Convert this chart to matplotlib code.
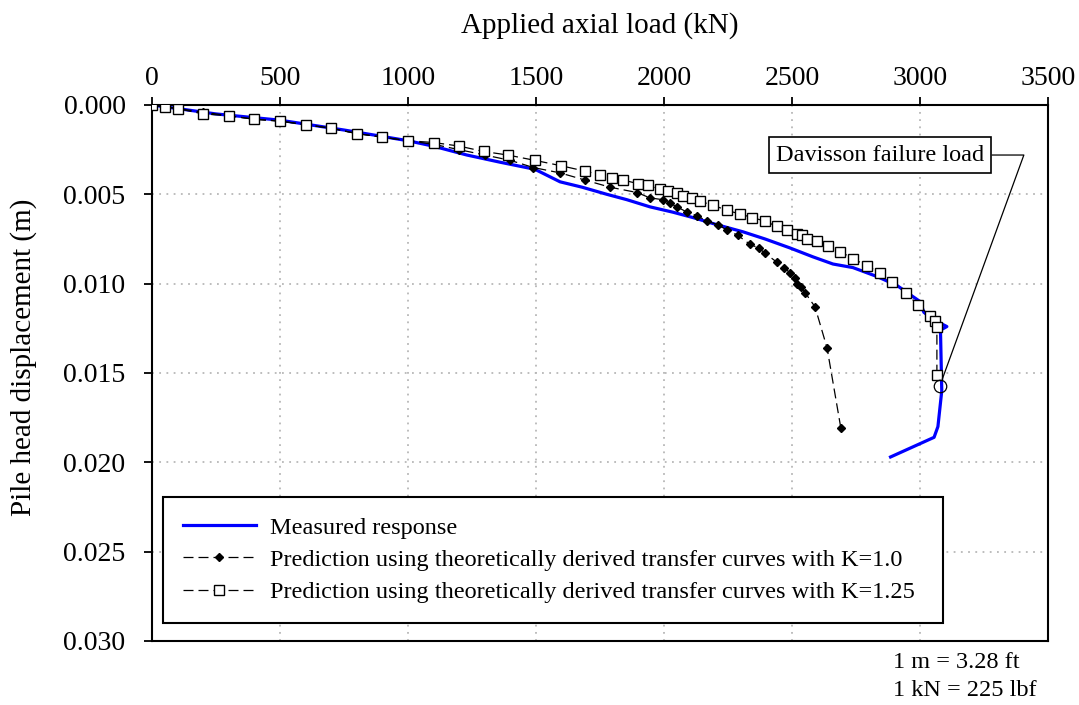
import matplotlib
matplotlib.use("Agg")
import matplotlib.pyplot as plt
from matplotlib.ticker import FixedLocator

plt.rcParams['font.family'] = ['Liberation Serif', 'DejaVu Serif']

# ---------------- data ----------------
measured_load = [0, 100, 250, 500, 750, 1000, 1098, 1230, 1359, 1496, 1594, 1680, 1777,
                 1855, 1945, 2035, 2113, 2207, 2309, 2395, 2492, 2582, 2660, 2738, 2832,
                 2910, 2950, 3000, 3015, 3050, 3105, 3080, 3085, 3070, 3055, 2885]
measured_disp = [0, 0.0002, 0.0005, 0.00085, 0.0014, 0.0020, 0.0023, 0.0028, 0.0032, 0.0036,
                 0.0043, 0.0046, 0.0050, 0.0053, 0.0057, 0.0060, 0.0063, 0.0067, 0.0071,
                 0.0075, 0.0080, 0.0085, 0.0089, 0.0091, 0.0096, 0.0101, 0.0105, 0.0110,
                 0.0116, 0.0120, 0.0124, 0.0126, 0.0160, 0.0180, 0.0186, 0.0197]

k10_load = [0, 50, 100, 200, 300, 400, 500, 600, 700, 800, 900, 1000, 1100, 1200, 1300,
            1400, 1490, 1594, 1691, 1789, 1895, 1945, 1996, 2023, 2051, 2090, 2130, 2168,
            2210, 2246, 2289, 2336, 2370, 2395, 2441, 2470, 2492, 2510, 2520, 2535, 2551,
            2590, 2637, 2691]
k10_disp = [0, 0.0001, 0.0002, 0.0004, 0.0006, 0.0008, 0.0009, 0.0011, 0.0013, 0.0016,
            0.0018, 0.0020, 0.0022, 0.0025, 0.0028, 0.0031, 0.0035, 0.0038, 0.0042, 0.0046,
            0.0049, 0.0052, 0.0053, 0.0055, 0.0057, 0.0060, 0.0062, 0.0065, 0.0067, 0.0070,
            0.0073, 0.0078, 0.0080, 0.0083, 0.0088, 0.0091, 0.0094, 0.0097, 0.0100, 0.0102,
            0.0105, 0.0113, 0.0136, 0.0181]

k125_load = [0, 50, 100, 200, 300, 400, 500, 600, 700, 800, 900, 1000, 1100, 1200, 1295,
             1390, 1496, 1598, 1691, 1750, 1797, 1840, 1898, 1937, 1984, 2016, 2051, 2074,
             2110, 2141, 2191, 2246, 2297, 2344, 2395, 2441, 2480, 2520, 2540, 2559, 2598,
             2641, 2688, 2738, 2793, 2844, 2891, 2945, 2992, 3040, 3059, 3066, 3066]
k125_disp = [0, 0.0001, 0.0002, 0.0005, 0.0006, 0.0008, 0.0009, 0.0011, 0.0013, 0.0016,
             0.0018, 0.0020, 0.0021, 0.0023, 0.0026, 0.0028, 0.0031, 0.0034, 0.0037, 0.0039,
             0.0041, 0.0042, 0.0044, 0.0045, 0.0047, 0.0048, 0.0049, 0.0051, 0.0052, 0.0054,
             0.0056, 0.0059, 0.0061, 0.0063, 0.0065, 0.0068, 0.0070, 0.0072, 0.0073, 0.0075,
             0.0076, 0.0079, 0.0082, 0.0086, 0.0090, 0.0094, 0.0099, 0.0105, 0.0112, 0.0118,
             0.0121, 0.0124, 0.0151]

davisson_load = [3078]
davisson_disp = [0.0157]

x_ticks = [0, 500, 1000, 1500, 2000, 2500, 3000, 3500]
y_ticks = [0.000, 0.005, 0.010, 0.015, 0.020, 0.025, 0.030]
y_tick_labels = ["0.000", "0.005", "0.010", "0.015", "0.020", "0.025", "0.030"]

labels = ["Measured response",
          "Prediction using theoretically derived transfer curves with K=1.0",
          "Prediction using theoretically derived transfer curves with K=1.25"]

# ---------------- figure ----------------
FS_TEXT = 17.5
FS_TICK = 20
FS_LABEL = 21
fig = plt.figure(figsize=(10.79, 7.05), dpi=100)
ax = fig.add_axes([152 / 1079, 1 - 641 / 705, 896 / 1079, 536 / 705])

DASH = (0, (8, 4))
ax.plot(measured_load, measured_disp, color='#0000ff', lw=2.3, label=labels[0], zorder=3)
ax.plot(k10_load, k10_disp, color='black', lw=0.9, ls=DASH, marker='D', ms=4,
        mfc='black', mec='black', label=labels[1], zorder=4)
ax.plot(k125_load, k125_disp, color='black', lw=0.9, ls=DASH, marker='s', ms=7,
        mfc='white', mec='black', mew=1.0, label=labels[2], zorder=5)
ax.plot(davisson_load, davisson_disp, ls='none', marker='o', ms=9, mfc='none',
        mec='black', mew=0.9, zorder=6)

ax.annotate("Davisson failure load", xy=(davisson_load[0], davisson_disp[0]),
            xytext=(2844, 0.0028), fontsize=FS_TEXT, ha='center', va='center',
            bbox=dict(boxstyle='square,pad=0.3', fc='white', ec='black', lw=1.2),
            arrowprops=dict(arrowstyle='-', color='black', lw=0.9,
                            connectionstyle='angle,angleA=0,angleB=70,rad=0',
                            shrinkA=0, shrinkB=5),
            zorder=7)

ax.set_xlim(0, 3500)
ax.set_ylim(0.030, 0.000)
ax.xaxis.set_major_locator(FixedLocator(x_ticks))
ax.set_yticks(y_ticks)
ax.set_yticklabels(y_tick_labels)
ax.xaxis.tick_top()
ax.xaxis.set_label_position('top')
ax.tick_params(axis='both', direction='out', length=6, width=1.3, labelsize=FS_TICK,
               color='black')
ax.tick_params(axis='x', pad=4)
ax.tick_params(axis='y', pad=13)
for s in ax.spines.values():
    s.set_linewidth(1.5)
    s.set_color('black')

ax.grid(True, color='#b8b8b8', ls=(0, (1, 3)), lw=1.3)
ax.set_axisbelow(True)

ax.set_xlabel("Applied axial load (kN)", fontsize=FS_LABEL, labelpad=24)
ax.set_ylabel("Pile head displacement (m)", fontsize=FS_LABEL)
ax.yaxis.set_label_coords(-0.128, 0.53)

leg = ax.legend(loc='lower left', bbox_to_anchor=(11 / 896, 18 / 536, 780 / 896, 128 / 536),
                mode='expand', fontsize=FS_TEXT, frameon=True, fancybox=False,
                edgecolor='black', framealpha=1, handlelength=3.0, handletextpad=0.6,
                labelspacing=0.42, borderpad=0.82, borderaxespad=0)
leg.get_frame().set_linewidth(1.5)

fig.text(893 / 1079, 1 - 663 / 705, "1 m = 3.28 ft", fontsize=FS_TEXT, ha='left', va='center')
fig.text(893 / 1079, 1 - 690 / 705, "1 kN = 225 lbf", fontsize=FS_TEXT, ha='left', va='center')

fig.savefig("out.png", dpi=100)
